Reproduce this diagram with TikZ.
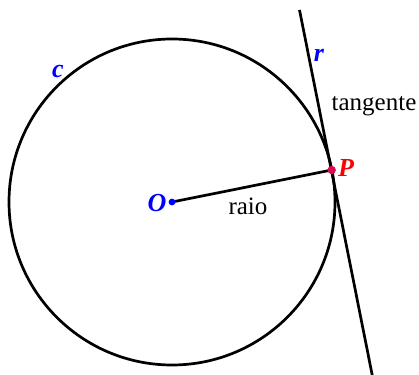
\documentclass[tikz,border=0pt]{standalone}
\usepackage{fontspec}
\setmainfont{Liberation Serif}
\definecolor{ptcol}{RGB}{220,10,80}
\begin{document}
\begin{tikzpicture}[x=1pt,y=-1pt,
  lbl/.style={inner sep=0pt,font=\fontsize{25}{30}\selectfont},
  vlbl/.style={inner sep=0pt,font=\fontsize{26}{30}\selectfont\bfseries\itshape},
  thick line/.style={line width=2.7pt}]
\useasboundingbox (0,0) rectangle (419,374);
\clip (0,0) rectangle (419,374);
\coordinate (O) at (172,202);
\coordinate (P) at (331.7,170);
\coordinate (T1) at (299.5,10);
\coordinate (T2) at (373.2,380);
\draw[thick line] (O) circle[radius=163];
\draw[thick line] (T1) -- (T2);
\draw[thick line] (O) -- (P);
\fill[blue] (O) circle[radius=3.4];
\fill[ptcol] (P) circle[radius=4.2];
\node[vlbl,text=blue] (Ol) at (157,203) {O};
\node[vlbl,text=red] (Pl) at (346,168) {P};
\node[vlbl,text=blue] (cl) at (58,72) {c};
\node[vlbl,text=blue] (rl) at (319,55) {r};
\node[lbl] (tl) at (374,106) {tangente};
\node[lbl] (ral) at (248,206) {raio};
\end{tikzpicture}
\end{document}
